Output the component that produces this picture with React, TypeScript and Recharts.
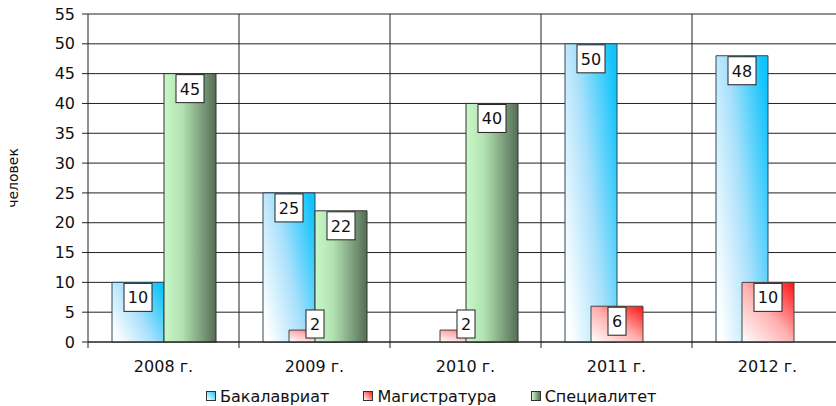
import { BarChart, Bar, XAxis, YAxis, CartesianGrid, Legend, LabelList } from "recharts";

const categories = ["2008 г.", "2009 г.", "2010 г.", "2011 г.", "2012 г."];
const bachelor = [10, 25, 0, 50, 48];
const master = [0, 2, 2, 6, 10];
const specialist = [45, 22, 40, 0, 0];
const yTicks = [0, 5, 10, 15, 20, 25, 30, 35, 40, 45, 50, 55];

const seriesNames = ["Бакалавриат", "Магистратура", "Специалитет"];

const data = categories.map((name, i) => ({
  name,
  bachelor: bachelor[i],
  master: master[i],
  specialist: specialist[i],
}));

const FONT = "'DejaVu Sans', Verdana, sans-serif";

const ValueBox = (props: any) => {
  const { x, y, width, height, value } = props;
  if (!value) return null;
  const txt = String(value);
  const bw = txt.length * 10 + 8;
  const bh = 28;
  let top = y + 1;
  const limit = y + height - 4;
  if (top + bh > limit) top = limit - bh;
  const cx = x + width / 2;
  return (
    <g>
      <rect x={cx - bw / 2} y={top} width={bw} height={bh} fill="#fff" stroke="#222" strokeWidth={1} />
      <text x={cx} y={top + bh / 2 + 6} textAnchor="middle" fontSize={16} fontFamily={FONT} fill="#111">
        {txt}
      </text>
    </g>
  );
};

const XTick = (props: any) => {
  const { x, y, payload, width, visibleTicksCount } = props;
  const half = payload.offset ?? width / visibleTicksCount / 2;
  return (
    <g>
      <line x1={x - half} x2={x - half} y1={y} y2={y + 6} stroke="#222" />
      <text x={x} y={y + 30} textAnchor="middle" fontSize={16} fontFamily={FONT} fill="#111">
        {payload.value}
      </text>
    </g>
  );
};

const swatches = [
  "linear-gradient(45deg, #ffffff, #1ec8fa)",
  "linear-gradient(45deg, #ffffff, #ff2020)",
  "linear-gradient(90deg, #c8f8c8, #566e56)",
];

const LegendBox = () => (
  <div style={{ display: "flex", paddingLeft: 206, height: 20, alignItems: "center", fontFamily: FONT, fontSize: 16, color: "#111" }}>
    {seriesNames.map((n, i) => (
      <div key={n} style={{ display: "flex", alignItems: "center", marginRight: 34 }}>
        <span style={{ width: 8, height: 8, border: "1px solid #333", background: swatches[i], marginRight: 4, display: "inline-block" }} />
        <span>{n}</span>
      </div>
    ))}
  </div>
);

export default function App() {
  return (
    <div style={{ position: "absolute", left: 0, top: 0, width: 836, height: 406, overflow: "hidden", background: "#fff" }}>
      <BarChart
        width={843}
        height={406}
        data={data}
        margin={{ top: 14, right: 0, left: 0, bottom: 0 }}
        barSize={52}
        barGap={-26}
      >
        <defs>
          <linearGradient id="gBlue" x1="0" y1="0.8" x2="1" y2="0.2">
            <stop offset="0" stopColor="#ffffff" />
            <stop offset="0.5" stopColor="#a8e0fb" />
            <stop offset="1" stopColor="#12c4fb" />
          </linearGradient>
          <linearGradient id="gRed" x1="0" y1="1" x2="1" y2="0">
            <stop offset="0" stopColor="#ffffff" />
            <stop offset="0.5" stopColor="#ffb0b0" />
            <stop offset="1" stopColor="#ff1010" />
          </linearGradient>
          <linearGradient id="gGreen" x1="0" y1="0" x2="1" y2="0">
            <stop offset="0" stopColor="#c8f8c8" />
            <stop offset="0.35" stopColor="#b2e2b2" />
            <stop offset="1" stopColor="#556d55" />
          </linearGradient>
        </defs>
        <CartesianGrid
          stroke="#222"
          verticalCoordinatesGenerator={({ offset }: any) =>
            categories.slice(1).map((_, i) => offset.left + ((i + 1) * offset.width) / categories.length)
          }
        />
        <XAxis
          dataKey="name"
          height={44}
          tickSize={0}
          tickMargin={0}
          tickLine={false}
          axisLine={{ stroke: "#222" }}
          tick={<XTick />}
          interval={0}
        />
        <YAxis
          width={88}
          domain={[0, 55]}
          ticks={yTicks}
          interval={0}
          tickSize={6}
          tickMargin={7}
          tickLine={{ stroke: "#222" }}
          axisLine={{ stroke: "#222" }}
          tick={{ fontSize: 16, fontFamily: FONT, fill: "#111" }}
          label={(p: any) => {
            const vb = p.viewBox;
            const cy = vb.y + vb.height / 2;
            return (
              <text x={18} y={cy} transform={`rotate(-90 18 ${cy})`} textAnchor="middle" fontSize={14} fontFamily={FONT} fill="#111">
                человек
              </text>
            );
          }}
        />
        <Legend verticalAlign="bottom" content={<LegendBox />} />
        <Bar dataKey="bachelor" name={seriesNames[0]} fill="url(#gBlue)" stroke="#2a4a5a" strokeWidth={1} isAnimationActive={false}>
          <LabelList dataKey="bachelor" content={<ValueBox />} />
        </Bar>
        <Bar dataKey="master" name={seriesNames[1]} fill="url(#gRed)" stroke="#444" strokeWidth={1} isAnimationActive={false}>
          <LabelList dataKey="master" content={<ValueBox />} />
        </Bar>
        <Bar dataKey="specialist" name={seriesNames[2]} fill="url(#gGreen)" stroke="#333" strokeWidth={1} isAnimationActive={false}>
          <LabelList dataKey="specialist" content={<ValueBox />} />
        </Bar>
      </BarChart>
    </div>
  );
}
